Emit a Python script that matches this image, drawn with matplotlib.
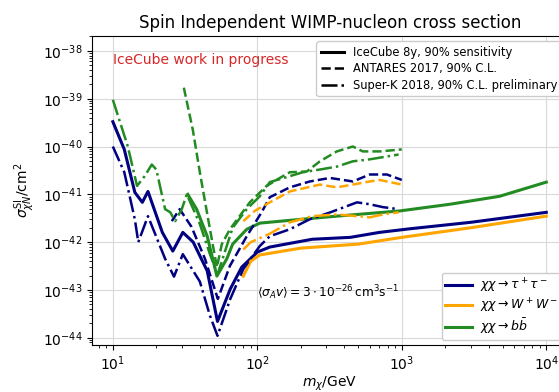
import numpy as np
import matplotlib
matplotlib.use("Agg")
import matplotlib.pyplot as plt
from matplotlib.lines import Line2D

# IceCube 8y sensitivity
ic_tau_m = [10, 12, 14.2, 16, 17.5, 22, 26, 30.5, 36, 45, 53, 65, 78, 100, 122, 240, 440, 700, 1130, 3000, 10000]
ic_tau_s = [3.3e-40, 8.7e-41, 1.1e-41, 6.8e-42, 1.15e-41, 1.6e-42, 6.5e-43, 1.6e-42, 1.0e-42, 2.5e-43,
            2.2e-44, 1.05e-43, 3.0e-43, 6.2e-43, 7.9e-43, 1.15e-42, 1.26e-42, 1.6e-42, 1.9e-42, 2.6e-42, 4.2e-42]
ic_w_m = [80, 90, 104, 200, 500, 1000, 3000, 10000]
ic_w_s = [1.95e-43, 4.0e-43, 5.4e-43, 7.5e-43, 9.1e-43, 1.26e-42, 2.0e-42, 3.5e-42]
ic_b_m = [33, 38, 45, 52.5, 61.5, 67.5, 84.5, 104, 200, 355, 970, 2150, 4750, 10000]
ic_b_s = [1.0e-41, 4.9e-42, 1.33e-42, 1.95e-43, 4.5e-43, 9.1e-43, 1.86e-42, 2.5e-42, 3.0e-42,
          3.5e-42, 4.5e-42, 6.2e-42, 9.1e-42, 1.8e-41]

# ANTARES 2017
an_tau_m = [25.6, 29, 35, 43.4, 53.3, 64.6, 84.5, 107, 122, 168, 231, 318, 458, 601, 788, 1000]
an_tau_s = [2.75e-42, 4.9e-42, 2.1e-42, 4.5e-43, 6.5e-44, 3.2e-43, 1.33e-42, 4.2e-42, 8.7e-42,
            1.4e-41, 1.86e-41, 2.2e-41, 1.86e-41, 2.6e-41, 2.6e-41, 2.0e-41]
an_w_m = [80, 96, 122, 168, 271, 355, 458, 601, 705, 788, 1000]
an_w_s = [2.75e-42, 4.5e-42, 6.8e-42, 1.15e-41, 1.6e-41, 1.4e-41, 1.6e-41, 1.86e-41, 2.0e-41, 1.86e-41, 1.6e-41]
an_b_m = [31, 35.8, 40, 44.8, 48.4, 52.5, 56.8, 64.6, 88.7, 116, 143, 168, 220, 271, 355, 458, 537, 705, 1000]
an_b_s = [1.7e-39, 2.2e-40, 2.9e-41, 4.2e-42, 1.15e-42, 3.0e-43, 9.1e-43, 1.86e-42, 6.8e-42, 1.5e-41,
          2.2e-41, 2.9e-41, 3.0e-41, 4.9e-41, 7.9e-41, 1.0e-40, 7.9e-41, 7.9e-41, 8.7e-41]

# Super-K 2018
sk_tau_m = [10, 12, 14.2, 15, 17.5, 23, 26.5, 30.5, 40, 47, 53, 65, 80, 104, 122, 168, 230, 320, 490, 600, 740, 950]
sk_tau_s = [1.0e-40, 2.9e-41, 3.0e-42, 1.0e-42, 3.5e-42, 4.5e-43, 1.9e-43, 5.6e-43, 1.5e-43, 2.9e-44,
            1.1e-44, 6.5e-44, 2.75e-43, 8.3e-43, 1.33e-42, 1.86e-42, 3.0e-42, 4.2e-42, 6.8e-42, 6.2e-42,
            5.4e-42, 4.9e-42]
sk_w_m = [80, 90, 122, 168, 240, 355, 490, 600, 740, 950]
sk_w_s = [7.0e-43, 1.0e-42, 1.5e-42, 2.6e-42, 3.5e-42, 3.8e-42, 3.5e-42, 3.3e-42, 3.8e-42, 4.2e-42]
sk_b_m = [10, 12.7, 14.7, 16.6, 18.6, 20, 23, 25, 27, 30, 32.5, 40, 47, 53, 67.5, 84.5, 104, 122,
          207, 271, 355, 458, 601, 950]
sk_b_s = [9.5e-40, 1.0e-40, 1.5e-41, 2.4e-41, 4.2e-41, 3.3e-41, 4.9e-42, 4.2e-42, 2.75e-42, 4.9e-42,
          1.0e-41, 2.4e-42, 5.6e-43, 2.1e-43, 2.0e-42, 4.9e-42, 9.1e-42, 1.8e-41, 2.9e-41, 3.3e-41,
          3.8e-41, 4.9e-41, 5.4e-41, 6.8e-41]

c_tau = "navy"
c_w = "orange"
c_b = "forestgreen"
lw_ic = 2.2
lw_other = 1.8

fig = plt.figure(figsize=(5.59, 3.92), dpi=100)
# axes run a little past the right edge of the picture, as in the original crop
ax = fig.add_axes([0.165, 0.12, 0.85, 0.788])

ax.plot(ic_tau_m, ic_tau_s, color=c_tau, lw=lw_ic)
ax.plot(ic_w_m, ic_w_s, color=c_w, lw=lw_ic)
ax.plot(ic_b_m, ic_b_s, color=c_b, lw=lw_ic)

ax.plot(an_tau_m, an_tau_s, color=c_tau, lw=lw_other, ls="--")
ax.plot(an_w_m, an_w_s, color=c_w, lw=lw_other, ls="--")
ax.plot(an_b_m, an_b_s, color=c_b, lw=lw_other, ls="--")

ax.plot(sk_tau_m, sk_tau_s, color=c_tau, lw=lw_other, ls="-.")
ax.plot(sk_w_m, sk_w_s, color=c_w, lw=lw_other, ls="-.")
ax.plot(sk_b_m, sk_b_s, color=c_b, lw=lw_other, ls="-.")

ax.set_xscale("log")
ax.set_yscale("log")
ax.set_xlim(7.2, 14000)
ax.set_ylim(10**-44.15, 10**-37.69)
ax.set_yticks([1e-38, 1e-39, 1e-40, 1e-41, 1e-42, 1e-43, 1e-44])
ax.grid(True, which="major", color="#d9d9d9", lw=0.8)
ax.tick_params(labelsize=10)

ax.set_title("Spin Independent WIMP-nucleon cross section", fontsize=12)
ax.set_xlabel(r"$m_\chi$/GeV", fontsize=10, labelpad=1)
ax.set_ylabel(r"$\sigma^{\mathrm{SI}}_{\chi N}$/cm$^2$", fontsize=10)

ax.text(10, 10**-38.2, "IceCube work in progress", color="tab:red", fontsize=10, va="center")
ax.text(100, 10**-43.05, r"$\langle\sigma_A v\rangle = 3\cdot 10^{-26}\,\mathrm{cm}^3\mathrm{s}^{-1}$",
        fontsize=8.7, va="center")

style_handles = [Line2D([], [], color="black", lw=lw_ic, ls="-"),
                 Line2D([], [], color="black", lw=lw_other, ls="--"),
                 Line2D([], [], color="black", lw=lw_other, ls="-.")]
leg1 = ax.legend(style_handles,
                 ["IceCube 8y, 90% sensitivity", "ANTARES 2017, 90% C.L.",
                  "Super-K 2018, 90% C.L. preliminary"],
                 loc="upper right", fontsize=8.3, framealpha=1, borderaxespad=0.45,
                 labelspacing=0.3)
ax.add_artist(leg1)

chan_handles = [Line2D([], [], color=c_tau, lw=lw_ic),
                Line2D([], [], color=c_w, lw=lw_ic),
                Line2D([], [], color=c_b, lw=lw_ic)]
ax.legend(chan_handles,
          [r"$\chi\chi\rightarrow\tau^+\tau^-$", r"$\chi\chi\rightarrow W^+W^-$",
           r"$\chi\chi\rightarrow b\bar{b}$"],
          loc="lower right", fontsize=9, framealpha=1, borderaxespad=0.4,
          labelspacing=0.15, borderpad=0.3, handlelength=2.1, handletextpad=0.7)

fig.savefig("out.png", dpi=100)
